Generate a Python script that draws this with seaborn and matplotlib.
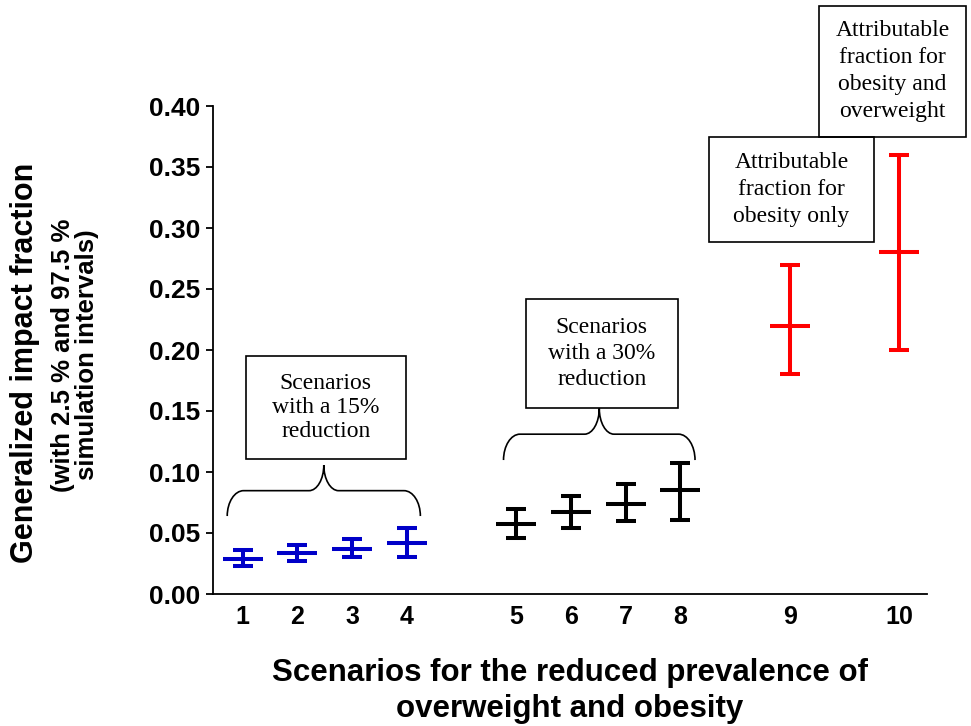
import matplotlib
matplotlib.use("Agg")
import numpy as np
import pandas as pd
import matplotlib.pyplot as plt
import seaborn as sns
from matplotlib.patches import Rectangle, PathPatch
from matplotlib.path import Path

# Generalized impact fraction per scenario, with 2.5 % / 97.5 % simulation limits
scenarios = [1, 2, 3, 4, 5, 6, 7, 8, 9, 10]
x_pos = [1, 2, 3, 4, 6, 7, 8, 9, 11, 13]
gif_mean = [0.029, 0.034, 0.037, 0.042, 0.057, 0.067, 0.074, 0.085, 0.220, 0.280]
gif_low = [0.023, 0.027, 0.030, 0.030, 0.046, 0.054, 0.060, 0.061, 0.180, 0.200]
gif_high = [0.036, 0.040, 0.045, 0.054, 0.070, 0.080, 0.090, 0.107, 0.270, 0.360]
group = ["15%"] * 4 + ["30%"] * 4 + ["AF obesity", "AF obesity+overweight"]
palette = {"15%": "#0000c8", "30%": "#000000",
           "AF obesity": "#ff0000", "AF obesity+overweight": "#ff0000"}

y_ticks = [0.00, 0.05, 0.10, 0.15, 0.20, 0.25, 0.30, 0.35, 0.40]

# Callout boxes (x0, x1, y0, y1 in data units), their texts and line spacing
box_texts = ["Scenarios\nwith a 15%\nreduction",
             "Scenarios\nwith a 30%\nreduction",
             "Attributable\nfraction for\nobesity only",
             "Attributable\nfraction for\nobesity and\noverweight"]
box_extents = [(1.06, 3.98, 0.1104, 0.1953),
               (6.18, 8.95, 0.1522, 0.2418),
               (9.52, 12.55, 0.2883, 0.3748),
               (11.53, 14.23, 0.3748, 0.4820)]
box_spacing = [1.2, 1.32, 1.38, 1.38]

# Curly braces grouping the reduction scenarios: (x_left, x_right, y_base, y_mid, y_tip)
braces = [(0.72, 4.25, 0.0639, 0.0847, 0.1057),
          (5.77, 9.27, 0.1098, 0.1310, 0.1522)]

df = pd.DataFrame({"scenario": scenarios, "x": x_pos, "mean": gif_mean,
                   "low": gif_low, "high": gif_high, "group": group})

sns.set_theme(style="ticks")
plt.rcParams["font.family"] = ["Liberation Sans", "DejaVu Sans"]
plt.rcParams["axes.linewidth"] = 1.3
plt.rcParams["text.color"] = "black"
plt.rcParams["xtick.color"] = "black"
plt.rcParams["ytick.color"] = "black"
plt.rcParams["xtick.labelcolor"] = "black"
plt.rcParams["ytick.labelcolor"] = "black"

W, H = 971, 726
fig = plt.figure(figsize=(W / 100, H / 100), dpi=100)
fig.patch.set_facecolor("white")
ax = fig.add_axes([213 / W, 1 - 594 / H, (927 - 213) / W, (594 - 106) / H])
ax.set_facecolor("white")

lw = 2.9
for g, sub in df.groupby("group", sort=False):
    ax.errorbar(sub["x"], sub["mean"],
                yerr=[sub["mean"] - sub["low"], sub["high"] - sub["mean"]],
                fmt="none", ecolor=palette[g], elinewidth=lw,
                capsize=7.2, capthick=lw, zorder=3)

sns.scatterplot(data=df, x="x", y="mean", hue="group", palette=palette,
                marker="_", s=830, linewidth=lw, legend=False, ax=ax, zorder=4)

ax.set_xlim(0.46, 13.51)
ax.set_ylim(0, 0.40)
ax.set_yticks(y_ticks)
ax.set_yticklabels([f"{v:.2f}" for v in y_ticks], fontsize=19, fontweight="bold",
                   color="black")
ax.set_xticks(x_pos)
ax.set_xticklabels([str(s) for s in scenarios], fontsize=18, fontweight="bold",
                   color="black")
ax.tick_params(axis="x", length=0, pad=8)
ax.tick_params(axis="y", length=5, width=1.3, pad=4, color="black")
ax.set_xlabel("")
ax.set_ylabel("")
sns.despine(ax=ax)
for sp in ("left", "bottom"):
    ax.spines[sp].set_color("black")

# callout boxes
for txt, (x0, x1, y0, y1), ls in zip(box_texts, box_extents, box_spacing):
    ax.add_patch(Rectangle((x0, y0), x1 - x0, y1 - y0, fill=False,
                           edgecolor="black", linewidth=1.2, clip_on=False, zorder=5))
    ax.text((x0 + x1) / 2, (y0 + y1) / 2, txt, ha="center", va="center",
            family=["Liberation Serif", "DejaVu Serif"], fontsize=17,
            linespacing=ls, clip_on=False, zorder=6, color="black")


def brace_path(xl, xr, yb, ym, yt, r_end=0.30, r_mid=0.27):
    xc = (xl + xr) / 2
    k = 0.55
    verts = [
        (xl, yb),
        (xl, yb + k * (ym - yb)), (xl + (1 - k) * r_end, ym), (xl + r_end, ym),
        (xc - r_mid, ym),
        (xc - (1 - k) * r_mid, ym), (xc, ym + (1 - k) * (yt - ym)), (xc, yt),
        (xc, ym + (1 - k) * (yt - ym)), (xc + (1 - k) * r_mid, ym), (xc + r_mid, ym),
        (xr - r_end, ym),
        (xr - (1 - k) * r_end, ym), (xr, yb + k * (ym - yb)), (xr, yb),
    ]
    codes = ([Path.MOVETO] + [Path.CURVE4] * 3 + [Path.LINETO] + [Path.CURVE4] * 3
             + [Path.CURVE4] * 3 + [Path.LINETO] + [Path.CURVE4] * 3)
    return Path(verts, codes)


for b in braces:
    ax.add_patch(PathPatch(brace_path(*b), fill=False, edgecolor="black",
                           linewidth=1.2, clip_on=False, zorder=5))

# axis titles
fig.text(570 / W, 1 - 691 / H,
         "Scenarios for the reduced prevalence of\noverweight and obesity",
         ha="center", va="center", fontsize=22.5, fontweight="bold", linespacing=1.3)
fig.text(25 / W, 1 - 363 / H, "Generalized impact fraction", rotation=90,
         ha="center", va="center", fontsize=22, fontweight="bold")
fig.text(75 / W, 1 - 355 / H, "(with 2.5 % and 97.5 %\nsimulation intervals)",
         rotation=90, ha="center", va="center", fontsize=18.5, fontweight="bold",
         linespacing=1.05, multialignment="center")

fig.savefig("out.png", dpi=100, facecolor="white")
